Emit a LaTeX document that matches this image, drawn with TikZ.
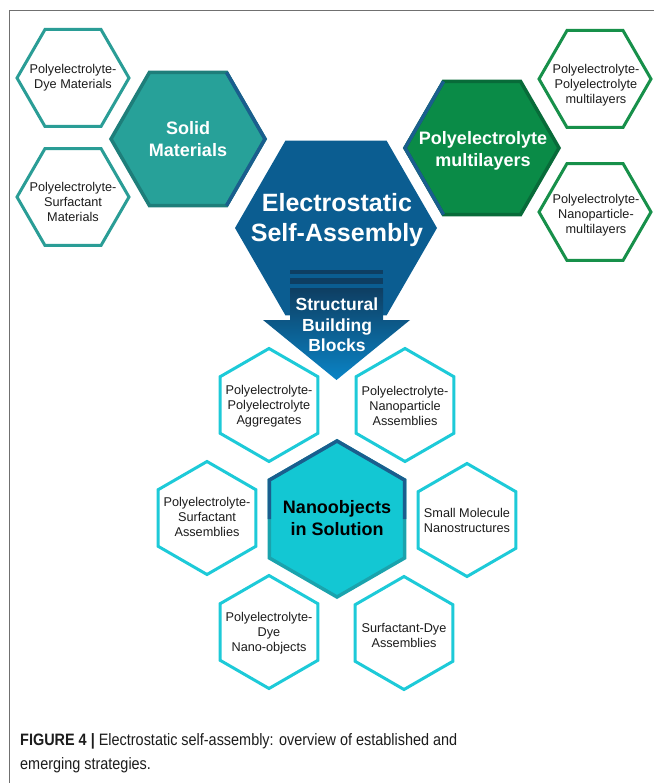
\documentclass[tikz,border=0pt]{standalone}
\usepackage{fontspec}
\setmainfont{Liberation Sans}
\newfontfamily\capfont[FakeStretch=0.875]{Liberation Sans}
\usetikzlibrary{shapes.geometric}

\definecolor{tealfill}{HTML}{27A199}
\definecolor{tealline}{HTML}{1E7E7A}
\definecolor{tealsmall}{HTML}{2A9D96}
\definecolor{esablue}{HTML}{0B5D91}
\definecolor{edgeblue}{HTML}{1A5E8E}
\definecolor{greenfill}{HTML}{0A8B47}
\definecolor{greenline}{HTML}{086B39}
\definecolor{greensmall}{HTML}{17904A}
\definecolor{cyanfill}{HTML}{13C7D3}
\definecolor{cyanline}{HTML}{1AA3AD}
\definecolor{cyansmall}{HTML}{1DCAD8}
\definecolor{navy}{HTML}{0E3E62}
\definecolor{arrowlight}{HTML}{0A84C6}
\definecolor{framegray}{HTML}{707070}
\definecolor{txtgray}{HTML}{1C1C1C}

\begin{document}
\begin{tikzpicture}
    [
        x=1pt, y=-1pt,
        hexflat/.style = {shape=regular polygon, regular polygon sides=6, inner sep=0pt, outer sep=0pt},
        hexup/.style = {hexflat, shape border rotate=30},
        smallhex/.style = {hexflat, minimum size=112pt, line width=3pt, fill=white},
        smallhexup/.style = {hexup, minimum size=113pt, line width=3pt, fill=white, draw=cyansmall},
        bighex/.style = {hexflat, minimum size=154pt, line width=3.5pt},
        smalltxt/.style = {font=\fontsize{12.7}{15}\selectfont, align=center, text=txtgray, inner sep=0pt},
        bigtxt/.style = {font=\bfseries\fontsize{18}{22}\selectfont, align=center, text=white, inner sep=0pt},
        captxt/.style = {anchor=base west, inner sep=0pt, font=\capfont\fontsize{16.5}{24}\selectfont, text=txtgray},
    ]

    \useasboundingbox (0,0) rectangle (654,783);
    \draw[framegray, line width=1.2pt] (9.5,783) -- (9.5,10.5) -- (654,10.5);

    % solid materials branch
    \node[smallhex, draw=tealsmall] (pdm) at (73,78) {};
    \node[smallhex, draw=tealsmall] (psm) at (73,197) {};
    \node[bighex, fill=tealfill, draw=tealline] (solid) at (188,139) {};
    \draw[edgeblue, line width=3.5pt] (solid.60) -- (solid.0) -- (solid.300);

    % multilayer branch
    \node[smallhex, draw=greensmall] (ppm) at (595,79) {};
    \node[smallhex, draw=greensmall] (pnm) at (595,212) {};
    \node[bighex, fill=greenfill, draw=greenline] (pem) at (482,148) {};
    \draw[edgeblue, line width=3.5pt] (pem.120) -- (pem.180) -- (pem.240);

    % centre and arrow
    \node[hexflat, minimum size=202pt, fill=esablue] (esa) at (336,228) {};
    \fill[navy] (290,270) rectangle (383,273.5);
    \fill[navy] (290,277.5) rectangle (383,283.5);
    \shade[top color=navy, bottom color=arrowlight] (290,288) -- (383,288) -- (383,320) -- (410,320)
        -- (336.5,380) -- (263,320) -- (290,320) -- cycle;

    % nanoobjects in solution
    \node[smallhexup] (ppa) at (269,405) {};
    \node[smallhexup] (pna) at (405,405) {};
    \node[smallhexup] (psa) at (207,518) {};
    \node[smallhexup] (smn) at (467,520) {};
    \node[smallhexup] (pdn) at (269,632) {};
    \node[smallhexup] (sda) at (404,633) {};
    \node[hexup, minimum size=156pt, line width=3.5pt, fill=cyanfill, draw=cyanline] (nano) at (337,519) {};
    \draw[edgeblue, line width=3.5pt] (nano.180) -- (nano.150) -- (nano.90) -- (nano.30) -- (nano.0);

    % labels
    \node[smalltxt] (pdm-t) at (73,78) {Polyelectrolyte-\\Dye Materials};
    \node[smalltxt] (psm-t) at (73,202) {Polyelectrolyte-\\Surfactant\\Materials};
    \node[bigtxt] (solid-t) at (188,139) {Solid\\Materials};
    \node[bigtxt] (pem-t) at (483,151) {Polyelectrolyte\\multilayers};
    \node[smalltxt] (ppm-t) at (596,85) {Polyelectrolyte-\\Polyelectrolyte\\multilayers};
    \node[smalltxt] (pnm-t) at (596,215) {Polyelectrolyte-\\Nanoparticle-\\multilayers};
    \node[bigtxt, font=\bfseries\fontsize{25}{30}\selectfont] (esa-t) at (337,220) {Electrostatic\\Self-Assembly};
    \node[bigtxt, font=\bfseries\fontsize{17.5}{20.5}\selectfont] (sbb-t) at (337,325) {Structural\\Building\\Blocks};
    \node[bigtxt, text=black] (nano-t) at (337,518) {Nanoobjects\\in Solution};
    \node[smalltxt] (ppa-t) at (269,406) {Polyelectrolyte-\\Polyelectrolyte\\Aggregates};
    \node[smalltxt] (pna-t) at (405,406) {Polyelectrolyte-\\Nanoparticle\\Assemblies};
    \node[smalltxt] (psa-t) at (207,517) {Polyelectrolyte-\\Surfactant\\Assemblies};
    \node[smalltxt] (smn-t) at (467,520) {Small Molecule\\Nanostructures};
    \node[smalltxt] (pdn-t) at (269,633) {Polyelectrolyte-\\Dye\\Nano-objects};
    \node[smalltxt] (sda-t) at (404,635) {Surfactant-Dye\\Assemblies};

    \node[captxt] (cap1) at (20,745) {\textbf{FIGURE 4 |} Electrostatic self-assembly: overview of established and};
    \node[captxt] (cap2) at (20,769) {emerging strategies.};
\end{tikzpicture}
\end{document}
